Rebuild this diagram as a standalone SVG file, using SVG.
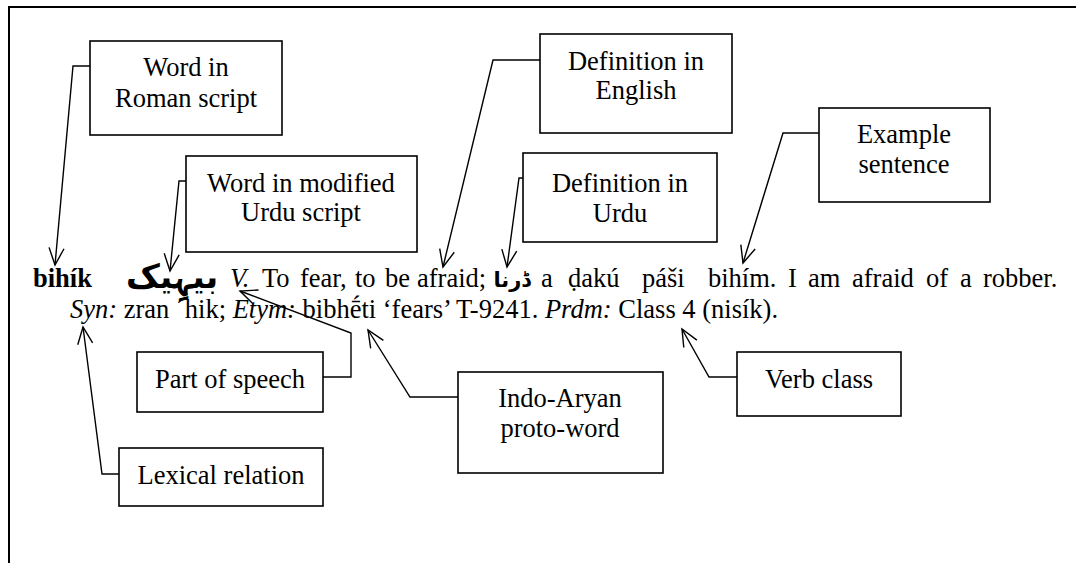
<svg xmlns="http://www.w3.org/2000/svg" width="1076" height="563" viewBox="0 0 1076 563">
<style>
.box{fill:#fff;stroke:#000;stroke-width:1.6}
.lbl{font-family:"Liberation Serif","Times New Roman",serif;font-size:26.5px;text-anchor:middle;fill:#000}
.t{font-family:"Liberation Serif","Times New Roman",serif;font-size:26.5px;fill:#000}
.ur{font-family:"DejaVu Sans","Noto Sans",sans-serif;font-weight:bold;text-anchor:middle;fill:#000}
.conn{fill:none;stroke:#000;stroke-width:1.4;marker-end:url(#arr)}
.i{font-style:italic}
</style>
<defs>
<marker id="arr" markerUnits="userSpaceOnUse" viewBox="-20 -10 24 20" refX="0" refY="0" markerWidth="24" markerHeight="20" orient="auto" overflow="visible">
<path d="M-17,-7.5 L0,0 L-17,7.5" fill="none" stroke="#000" stroke-width="1.4"/>
</marker>
</defs>
<rect x="0" y="0" width="1076" height="563" fill="#fff"/>
<g id="frame">
<path d="M9,563 L9,7 L1076,7" fill="none" stroke="#000" stroke-width="2"/>
</g>
<g id="connectors">
<polyline class="conn" points="90,66 73,66 55,265"/>
<polyline class="conn" points="186,181 179,181 170,271"/>
<polyline class="conn" points="540,60 493,60 443,267"/>
<polyline class="conn" points="523,178 519,178 507,267"/>
<polyline class="conn" points="819,133 783,133 743,263"/>
<polyline class="conn" points="323,377 351,377 351,333 240,291"/>
<polyline class="conn" points="119,474 102,474 83,327"/>
<polyline class="conn" points="458,397 410,397 368,330"/>
<polyline class="conn" points="737,377 709,377 682,329"/>
</g>
<g id="node-roman">
<rect class="box" x="90" y="41" width="192" height="94"/>
<text class="lbl" x="186" y="76">Word in</text>
<text class="lbl" x="186" y="107">Roman script</text>
</g>
<g id="node-urdu-script">
<rect class="box" x="186" y="156" width="231" height="96"/>
<text class="lbl" x="301" y="192">Word in modified</text>
<text class="lbl" x="301" y="221">Urdu script</text>
</g>
<g id="node-def-english">
<rect class="box" x="540" y="34" width="192" height="99"/>
<text class="lbl" x="636" y="70">Definition in</text>
<text class="lbl" x="636" y="99">English</text>
</g>
<g id="node-def-urdu">
<rect class="box" x="523" y="153" width="194" height="89"/>
<text class="lbl" x="620" y="192">Definition in</text>
<text class="lbl" x="620" y="222">Urdu</text>
</g>
<g id="node-example">
<rect class="box" x="819" y="108" width="171" height="94"/>
<text class="lbl" x="904" y="143">Example</text>
<text class="lbl" x="904" y="173">sentence</text>
</g>
<g id="node-pos">
<rect class="box" x="137" y="352" width="186" height="60"/>
<text class="lbl" x="230" y="388">Part of speech</text>
</g>
<g id="node-lexical">
<rect class="box" x="119" y="448" width="204" height="58"/>
<text class="lbl" x="221" y="484">Lexical relation</text>
</g>
<g id="node-indo-aryan">
<rect class="box" x="458" y="372" width="205" height="101"/>
<text class="lbl" x="560" y="407">Indo-Aryan</text>
<text class="lbl" x="560" y="437">proto-word</text>
</g>
<g id="node-verb-class">
<rect class="box" x="737" y="352" width="164" height="64"/>
<text class="lbl" x="819" y="388">Verb class</text>
</g>
<g id="entry">
<text class="t" y="287"><tspan x="33" font-weight="bold">bihík</tspan><tspan x="230" class="i">V.</tspan><tspan x="262">To</tspan><tspan x="300">fear,</tspan><tspan x="355">to</tspan><tspan x="385">be</tspan><tspan x="417">afraid;</tspan><tspan x="541">a</tspan><tspan x="568">ḍakú</tspan><tspan x="642">páši</tspan><tspan x="708">bihím.</tspan><tspan x="788">I</tspan><tspan x="808">am</tspan><tspan x="852">afraid</tspan><tspan x="926">of</tspan><tspan x="960">a</tspan><tspan x="983">robber.</tspan></text>
<text class="ur" x="172" y="288" font-size="33">بیہِیک</text>
<text class="ur" x="512" y="287" font-size="21">ڈرنا</text>
<text class="t" x="70" y="318" xml:space="preserve"><tspan class="i">Syn:</tspan> zran ´hik; <tspan class="i">Etym:</tspan> bibhḗti ‘fears’ T-9241. <tspan class="i">Prdm:</tspan> Class 4 (nisík).</text>
</g>
</svg>
